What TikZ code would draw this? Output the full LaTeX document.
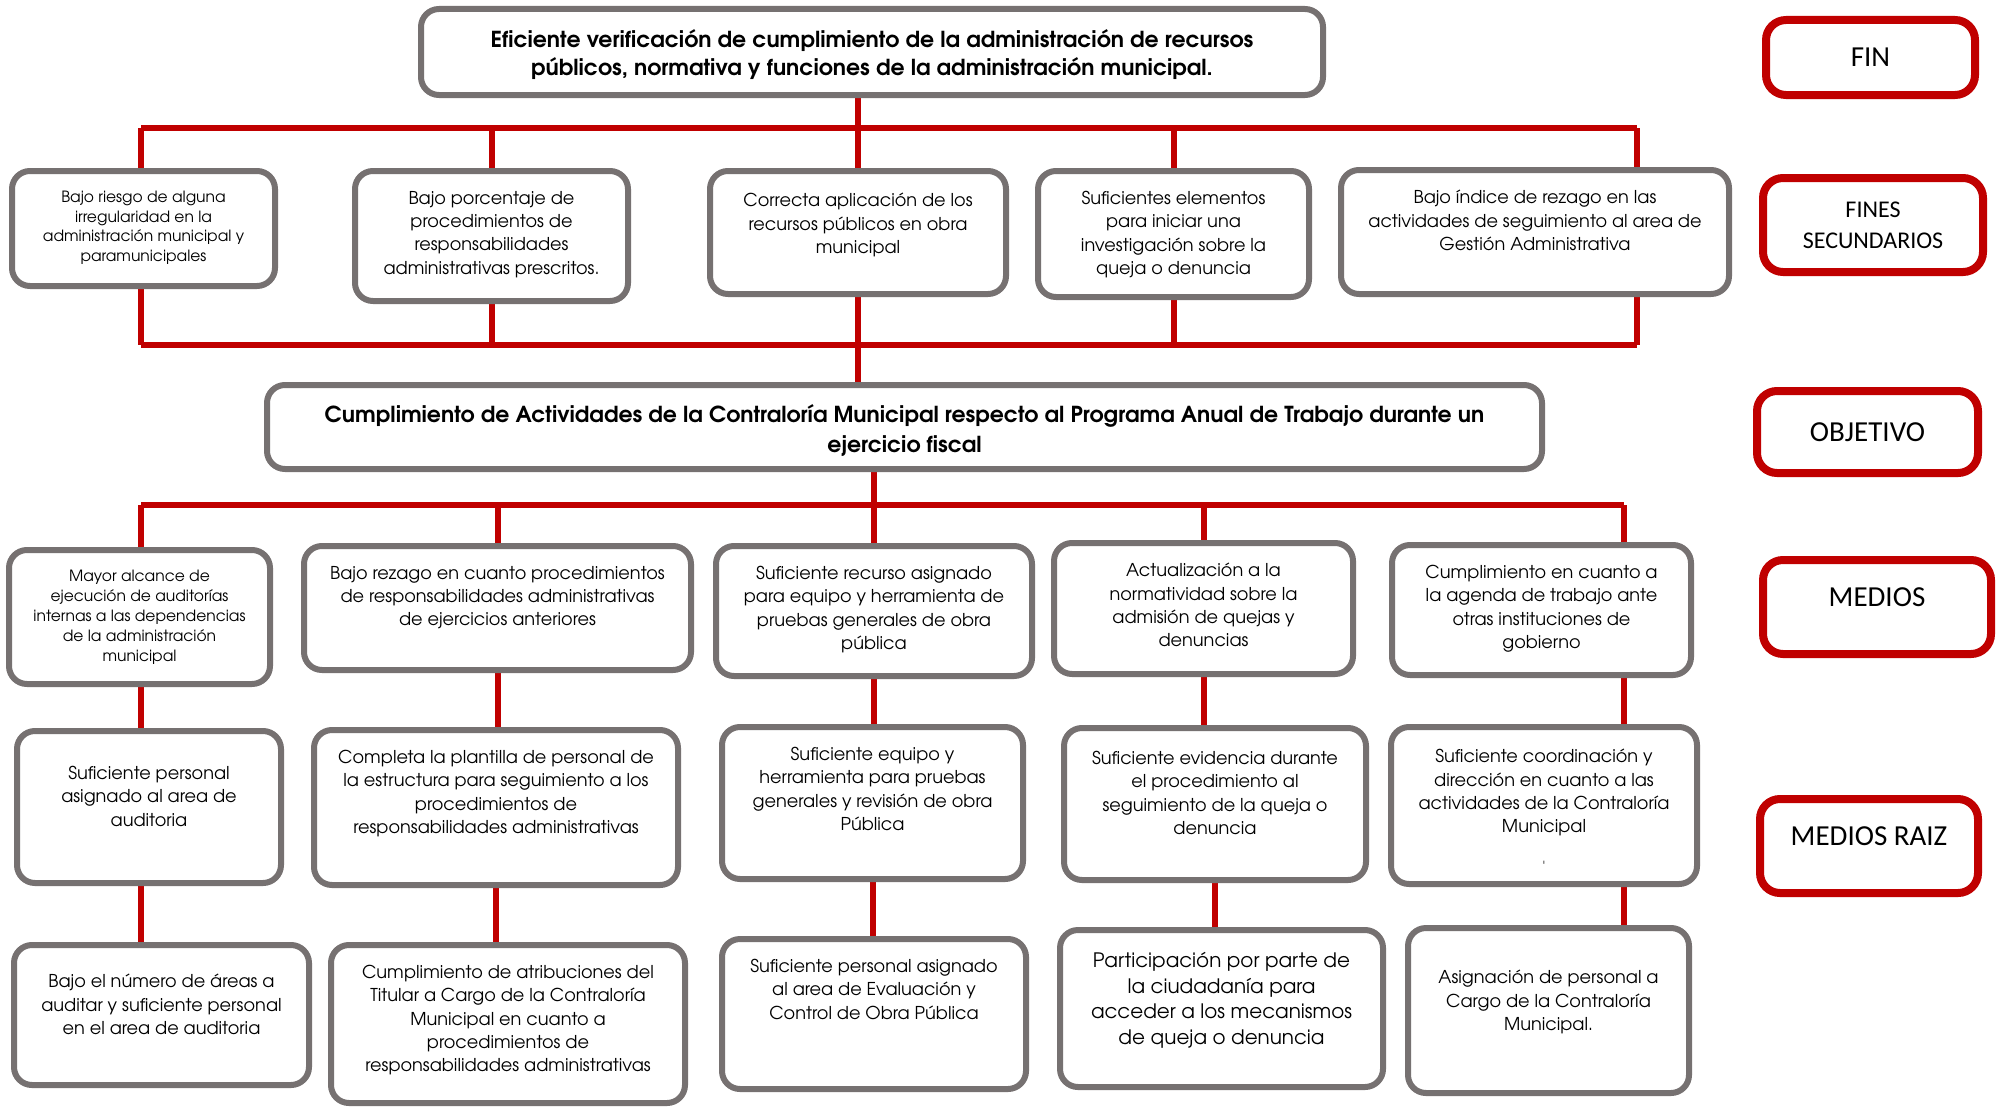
\documentclass[tikz,border=0pt]{standalone}
\usepackage{fontspec}
\setmainfont{texgyreadventor}[Extension=.otf, UprightFont=*-regular, BoldFont=*-bold, ItalicFont=*-italic, BoldItalicFont=*-bolditalic]
\newfontfamily\calibri{Carlito}
\usetikzlibrary{positioning}
\usetikzlibrary{backgrounds}
\definecolor{cajagris}{HTML}{767171}
\definecolor{rojo}{HTML}{C00000}

\begin{document}
\begin{tikzpicture}[x=1pt, y=-1pt,
		caja/.style={draw=cajagris, line width=6pt, rounded corners=18pt, fill=white},
		etiqueta/.style={draw=rojo, line width=8pt, rounded corners=20pt, fill=white, align=center,
			font=\calibri\fontsize{29}{34}\selectfont},
		texto/.style={anchor=north, align=center, inner sep=0pt, yshift=-23pt,
			font=\fontsize{17.7}{23.3}\selectfont},
		chico/.style={font=\fontsize{15.5}{19.5}\selectfont},
		grande/.style={font=\fontsize{19.9}{25.7}\selectfont},
		titulo/.style={font=\bfseries\fontsize{22}{28}\selectfont},
		conector/.style={draw=rojo, line width=6pt}
	]
	\useasboundingbox (0,0) rectangle (1996,1108);
	
	% fin
	\node[caja, minimum width=902pt, minimum height=86pt,
		label={[texto,titulo]north:{Eficiente verificación de cumplimiento de la administración de recursos\\públicos, normativa y funciones de la administración municipal.}}] (t) at (872,52) {};
	
	% fines secundarios
	\node[caja, minimum width=263pt, minimum height=115pt,
		label={[texto,chico]north:{Bajo riesgo de alguna\\irregularidad en la\\administración municipal y\\paramunicipales}}] (f1) at (143.5,228.5) {};
	\node[caja, minimum width=273pt, minimum height=130pt,
		label={[texto]north:{Bajo porcentaje de\\procedimientos de\\responsabilidades\\administrativas prescritos.}}] (f2) at (491.5,236) {};
	\node[caja, minimum width=296pt, minimum height=123pt,
		label={[texto,yshift=-2pt]north:{Correcta aplicación de los\\recursos públicos en obra\\municipal}}] (f3) at (858,232.5) {};
	\node[caja, minimum width=271pt, minimum height=126pt,
		label={[texto]north:{Suficientes elementos\\para iniciar una\\investigación sobre la\\queja o denuncia}}] (f4) at (1173.5,234) {};
	\node[caja, minimum width=388pt, minimum height=124pt,
		label={[texto]north:{Bajo índice de rezago en las\\actividades de seguimiento al area de\\Gestión Administrativa}}] (f5) at (1535,232) {};
	
	% objetivo
	\node[caja, minimum width=1275pt, minimum height=84pt,
		label={[texto,titulo,font=\bfseries\fontsize{22}{30}\selectfont,yshift=1pt]north:{Cumplimiento de Actividades de la Contraloría Municipal respecto al Programa Anual de Trabajo durante un\\ejercicio fiscal}}] (o) at (904.5,427) {};
	
	% medios
	\node[caja, minimum width=261pt, minimum height=134pt,
		label={[texto,chico,font=\fontsize{15.5}{20}\selectfont]north:{Mayor alcance de\\ejecución de auditorías\\internas a las dependencias\\de la administración\\municipal}}] (m1) at (139.5,617) {};
	\node[caja, minimum width=387pt, minimum height=124pt,
		label={[texto]north:{Bajo rezago en cuanto procedimientos\\de responsabilidades administrativas\\de ejercicios anteriores}}] (m2) at (497.5,608) {};
	\node[caja, minimum width=316pt, minimum height=130pt,
		label={[texto]north:{Suficiente recurso asignado\\para equipo y herramienta de\\pruebas generales de obra\\pública}}] (m3) at (874,611) {};
	\node[caja, minimum width=299pt, minimum height=131pt,
		label={[texto]north:{Actualización a la\\normatividad sobre la\\admisión de quejas y\\denuncias}}] (m4) at (1203.5,608.5) {};
	\node[caja, minimum width=299pt, minimum height=130pt,
		label={[texto]north:{Cumplimiento en cuanto a\\la agenda de trabajo ante\\otras instituciones de\\gobierno}}] (m5) at (1541.5,610) {};
	
	% medios raiz
	\node[caja, minimum width=264pt, minimum height=152pt,
		label={[texto,yshift=-15pt]north:{Suficiente personal\\asignado al area de\\auditoria}}] (r1) at (149,807) {};
	\node[caja, minimum width=364pt, minimum height=155pt,
		label={[texto]north:{Completa la plantilla de personal de\\la estructura para seguimiento a los\\procedimientos de\\responsabilidades administrativas}}] (r2) at (496,807.5) {};
	\node[caja, minimum width=301pt, minimum height=152pt,
		label={[texto]north:{Suficiente equipo y\\herramienta para pruebas\\generales y revisión de obra\\Pública}}] (r3) at (872.5,803) {};
	\node[caja, minimum width=302pt, minimum height=152pt,
		label={[texto,yshift=-3pt]north:{Suficiente evidencia durante\\el procedimiento al\\seguimiento de la queja o\\denuncia}}] (r4) at (1215,804) {};
	\node[caja, minimum width=306pt, minimum height=157pt,
		label={[texto,yshift=-2pt]north:{Suficiente coordinación y\\dirección en cuanto a las\\actividades de la Contraloría\\Municipal\\[16pt]{\fontsize{14}{14}\selectfont\textquotesingle}}}] (r5) at (1544,805.5) {};
	
	\node[caja, minimum width=295pt, minimum height=140pt,
		label={[texto,yshift=-9pt]north:{Bajo el número de áreas a\\auditar y suficiente personal\\en el area de auditoria}}] (b1) at (161.5,1015) {};
	\node[caja, minimum width=354pt, minimum height=158pt,
		label={[texto]north:{Cumplimiento de atribuciones del\\Titular a Cargo de la Contraloría\\Municipal en cuanto a\\procedimientos de\\responsabilidades administrativas}}] (b2) at (508,1024) {};
	\node[caja, minimum width=304pt, minimum height=150pt,
		label={[texto]north:{Suficiente personal asignado\\al area de Evaluación y\\Control de Obra Pública}}] (b3) at (874,1014) {};
	\node[caja, minimum width=323pt, minimum height=157pt,
		label={[texto,grande,yshift=-2pt]north:{Participación por parte de\\la ciudadanía para\\acceder a los mecanismos\\de queja o denuncia}}] (b4) at (1221.5,1008.5) {};
	\node[caja, minimum width=281pt, minimum height=165pt,
		label={[texto,yshift=-22pt]north:{Asignación de personal a\\Cargo de la Contraloría\\Municipal.}}] (b5) at (1548.5,1010.5) {};
	
	% etiquetas de nivel
	\node[etiqueta, minimum width=209pt, minimum height=75pt] (efin) at (1870.5,57.5) {FIN};
	\node[etiqueta, minimum width=220pt, minimum height=94pt,
		font=\calibri\fontsize{24}{30.7}\selectfont] (efines) at (1873,225) {FINES\\SECUNDARIOS};
	\node[etiqueta, minimum width=221pt, minimum height=82pt] (eobj) at (1867.5,432) {OBJETIVO};
	\node[etiqueta, minimum width=228pt, minimum height=94pt, text depth=20pt] (emed) at (1877,607) {MEDIOS};
	\node[etiqueta, minimum width=218pt, minimum height=94pt, text depth=20pt] (eraiz) at (1869,846) {MEDIOS RAIZ};
	
	% columnas y barras
	\coordinate (c1) at (141,0);
	\coordinate (c5a) at (1637,0);
	\coordinate (c5b) at (1624,0);
	\coordinate (barra1) at (0,128);
	\coordinate (barra2) at (0,345);
	\coordinate (barra3) at (0,505);
	
	\begin{scope}[on background layer]
		% fin -> fines secundarios
		\draw[conector] (t.south -| f3.north) -- (f3.north);
		\draw[conector] (c1 |- barra1) -- (c5a |- barra1);
		\draw[conector] (c1 |- barra1) -- (c1 |- f1.north);
		\draw[conector] (f2.north |- barra1) -- (f2.north);
		\draw[conector] (f4.north |- barra1) -- (f4.north);
		\draw[conector] (c5a |- barra1) -- (c5a |- f5.north);
		
		% fines secundarios -> objetivo
		\draw[conector] (c1 |- barra2) -- (c5a |- barra2);
		\draw[conector] (c1 |- f1.south) -- (c1 |- barra2);
		\draw[conector] (f2.south) -- (f2.south |- barra2);
		\draw[conector] (f3.south) -- (f3.south |- o.north);
		\draw[conector] (f4.south) -- (f4.south |- barra2);
		\draw[conector] (c5a |- f5.south) -- (c5a |- barra2);
		
		% objetivo -> medios
		\draw[conector] (o.south -| m3.north) -- (m3.north);
		\draw[conector] (c1 |- barra3) -- (c5b |- barra3);
		\draw[conector] (c1 |- barra3) -- (c1 |- m1.north);
		\draw[conector] (m2.north |- barra3) -- (m2.north);
		\draw[conector] (m4.north |- barra3) -- (m4.north);
		\draw[conector] (c5b |- barra3) -- (c5b |- m5.north);
		
		% medios -> medios raiz
		\draw[conector] (c1 |- m1.south) -- (c1 |- r1.north);
		\draw[conector] (m2.south) -- (m2.south |- r2.north);
		\draw[conector] (m3.south) -- (m3.south |- r3.north);
		\draw[conector] (m4.south) -- (m4.south |- r4.north);
		\draw[conector] (c5b |- m5.south) -- (c5b |- r5.north);
		
		% medios raiz -> fila inferior
		\draw[conector] (c1 |- r1.south) -- (c1 |- b1.north);
		\draw[conector] (r2.south) -- (r2.south |- b2.north);
		\draw[conector] (r3.south) -- (r3.south |- b3.north);
		\draw[conector] (r4.south) -- (r4.south |- b4.north);
		\draw[conector] (c5b |- r5.south) -- (c5b |- b5.north);
	\end{scope}
\end{tikzpicture}
\end{document}
